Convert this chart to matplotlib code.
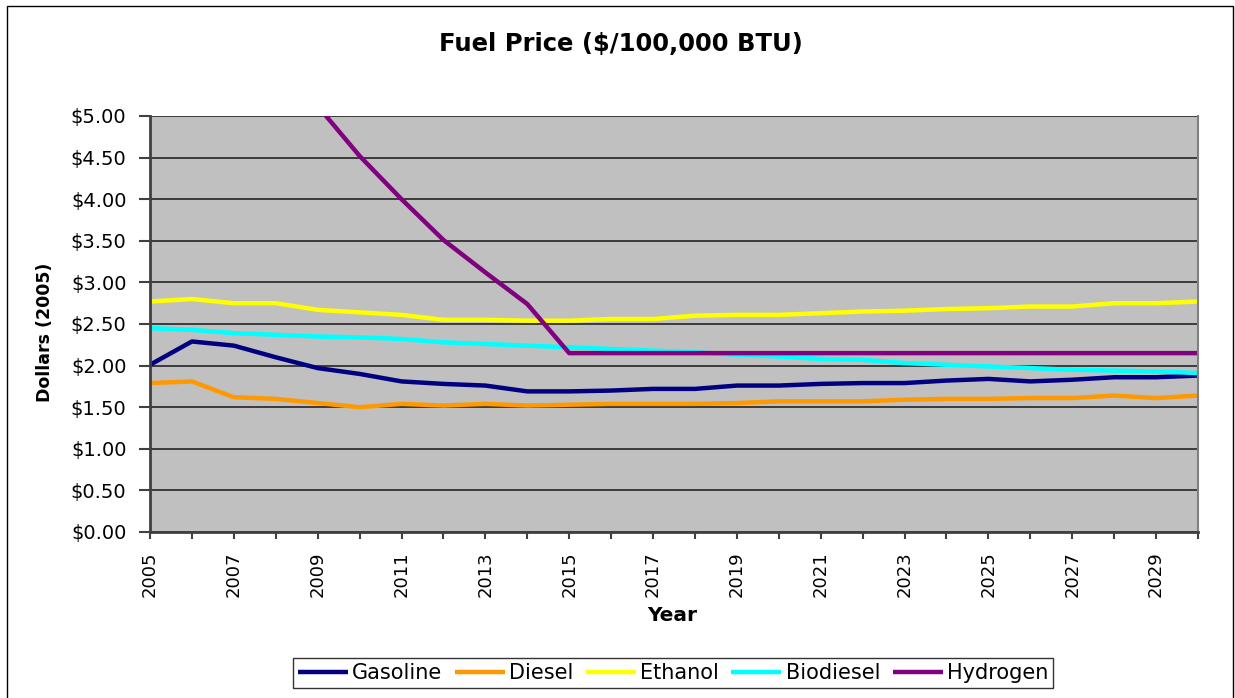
import matplotlib.pyplot as plt
from matplotlib.patches import Rectangle

years = list(range(2005, 2031))
gasoline = [2.01, 2.29, 2.24, 2.10, 1.97, 1.90, 1.81, 1.78, 1.76, 1.69, 1.69, 1.70, 1.72,
            1.72, 1.76, 1.76, 1.78, 1.79, 1.79, 1.82, 1.84, 1.81, 1.83, 1.86, 1.86, 1.88]
diesel = [1.79, 1.81, 1.62, 1.60, 1.55, 1.50, 1.54, 1.52, 1.54, 1.52, 1.53, 1.54, 1.54,
          1.54, 1.55, 1.57, 1.57, 1.57, 1.59, 1.60, 1.60, 1.61, 1.61, 1.64, 1.61, 1.64]
ethanol = [2.77, 2.80, 2.75, 2.75, 2.67, 2.64, 2.61, 2.55, 2.55, 2.54, 2.54, 2.56, 2.56,
           2.60, 2.61, 2.61, 2.63, 2.65, 2.66, 2.68, 2.69, 2.71, 2.71, 2.75, 2.75, 2.77]
biodiesel = [2.45, 2.43, 2.39, 2.37, 2.35, 2.34, 2.32, 2.28, 2.26, 2.24, 2.22, 2.20, 2.18,
             2.16, 2.13, 2.11, 2.08, 2.07, 2.03, 2.01, 1.99, 1.97, 1.95, 1.94, 1.93, 1.91]
hydrogen = [7.50, 7.00, 6.50, 5.80, 5.12, 4.52, 4.00, 3.51, 3.12, 2.74, 2.15, 2.15, 2.15,
            2.15, 2.15, 2.15, 2.15, 2.15, 2.15, 2.15, 2.15, 2.15, 2.15, 2.15, 2.15, 2.15]

series = [("Gasoline", gasoline, "#000080"),
          ("Diesel", diesel, "#FF9900"),
          ("Ethanol", ethanol, "#FFFF00"),
          ("Biodiesel", biodiesel, "#00FFFF"),
          ("Hydrogen", hydrogen, "#800080")]

plt.rcParams["font.family"] = ["DejaVu Sans"]

W, H = 1235, 698
fig = plt.figure(figsize=(W / 100, H / 100), dpi=100)
# chart area border
fig.patches.append(Rectangle((7 / W, -0.01), 1226 / W, 1.01 - 6 / H,
                             transform=fig.transFigure, fill=False,
                             edgecolor="black", linewidth=1))

ax = fig.add_axes([150 / W, 1 - 532 / H, 1048 / W, 416 / H])
ax.set_facecolor("#C0C0C0")

for name, vals, col in series:
    ax.plot(years, vals, color=col, linewidth=3.2, label=name, solid_capstyle="butt")

ax.set_xlim(2005, 2030)
ax.set_ylim(0, 5)
ax.set_yticks([i * 0.5 for i in range(11)])
ax.set_yticklabels(["${:.2f}".format(i * 0.5) for i in range(11)], fontsize=14)
ax.set_xticks(range(2005, 2031, 2))
ax.set_xticks(range(2005, 2031), minor=True)
ax.set_xticklabels([str(y) for y in range(2005, 2031, 2)], rotation=90, fontsize=13)
ax.tick_params(axis="x", which="both", length=5, width=1.5, color="#404040", pad=9)
ax.tick_params(axis="y", length=8, width=1.5, color="#404040", pad=9)
ax.grid(axis="y", color="#303030", linewidth=1.3)
ax.set_axisbelow(True)

for s in ["left", "bottom"]:
    ax.spines[s].set_color("#404040")
    ax.spines[s].set_linewidth(2)
ax.spines["right"].set_color("#808080")
ax.spines["right"].set_linewidth(1.5)
ax.spines["top"].set_visible(False)

ax.set_ylabel("Dollars (2005)", fontsize=12.5, fontweight="bold")
ax.yaxis.set_label_coords((54 - 150) / 1048, 0.48)
ax.set_xlabel("Year", fontsize=14.5, fontweight="bold")
ax.xaxis.set_label_coords((672 - 150) / 1048, (532 - 606) / 416)
fig.text(621 / W, 1 - 44 / H, "Fuel Price ($/100,000 BTU)", fontsize=17.5,
         fontweight="bold", ha="center", va="center")

leg = fig.legend(loc="center", bbox_to_anchor=(673 / W, 1 - 673 / H), ncol=5,
                 fontsize=15, frameon=True, fancybox=False, handlelength=2.4,
                 handletextpad=0.2, columnspacing=0.6, borderpad=0.25,
                 borderaxespad=0)
leg.get_frame().set_edgecolor("black")
leg.get_frame().set_linewidth(1)

fig.savefig("out.png", dpi=100)
